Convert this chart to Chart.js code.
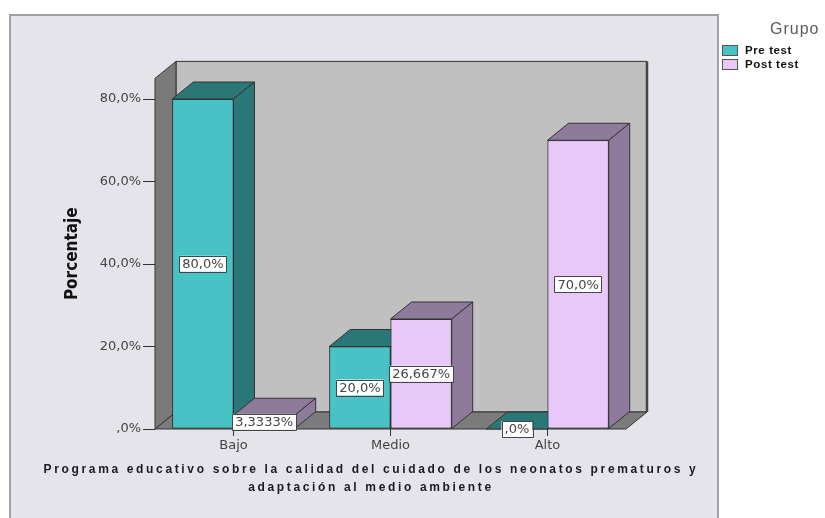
<!DOCTYPE html>
<html>
<head>
<meta charset="utf-8">
<script src="https://cdn.jsdelivr.net/npm/chart.js@4/dist/chart.umd.min.js"></script>
<style>
  html, body { margin: 0; padding: 0; background: #fff; }
</style>
</head>
<body>
<canvas id="grafico" width="825" height="518"></canvas>
<script>
// Datos del gráfico
const categories = ['Bajo', 'Medio', 'Alto'];
const seriesNames = ['Pre test', 'Post test'];
const preTest = [80, 20, 0];
const postTest = [3.3333, 26.667, 70];
const preLabels = ['80,0%', '20,0%', ',0%'];
const postLabels = ['3,3333%', '26,667%', '70,0%'];
const yTicks = [0, 20, 40, 60, 80];
const yTickLabels = [',0%', '20,0%', '40,0%', '60,0%', '80,0%'];
const yTitle = 'Porcentaje';
const xTitle = ['Programa educativo sobre la calidad del cuidado de los neonatos prematuros y',
                'adaptación al medio ambiente'];
const legendTitle = 'Grupo';

// Estilo
const frontColors = ['#47c3c6', '#e8c8f8'];
const depthColors = ['#2b7676', '#8e7a9b'];
const DX = 21, DY = -17; // profundidad 3D
const fontSans = "'Liberation Sans', Arial, sans-serif";
const fontTicks = "'DejaVu Sans', sans-serif";

const allLabels = [preLabels, postLabels];

function poly(ctx, pts, fill, stroke) {
    ctx.beginPath();
    ctx.moveTo(pts[0][0], pts[0][1]);
    for (let i = 1; i < pts.length; i++) ctx.lineTo(pts[i][0], pts[i][1]);
    ctx.closePath();
    ctx.fillStyle = fill;
    ctx.fill();
    if (stroke) { ctx.strokeStyle = stroke; ctx.stroke(); }
}

const depth3d = {
    id: 'depth3d',
    beforeDraw(chart) {
        const ctx = chart.ctx;
        ctx.save();
        ctx.fillStyle = '#ffffff';
        ctx.fillRect(0, 0, chart.width, chart.height);
        ctx.fillStyle = '#e4e4ea';
        ctx.fillRect(10, 15, 708, 520);
        ctx.strokeStyle = '#a0a0a4';
        ctx.lineWidth = 2;
        ctx.strokeRect(10, 15, 708, 520);
        ctx.restore();
    },
    beforeDatasetsDraw(chart) {
        const ctx = chart.ctx;
        const a = chart.chartArea;
        ctx.save();
        ctx.lineWidth = 1;
        ctx.lineJoin = 'round';
        // pared trasera
        poly(ctx, [[a.left + DX, a.top + DY], [a.right + DX, a.top + DY],
                   [a.right + DX, a.bottom + DY], [a.left + DX, a.bottom + DY]], '#c0c0c0', '#333');
        ctx.lineWidth = 2.5;
        ctx.strokeStyle = '#444';
        ctx.beginPath();
        ctx.moveTo(a.right + DX, a.top + DY);
        ctx.lineTo(a.right + DX, a.bottom + DY);
        ctx.stroke();
        ctx.lineWidth = 1;
        // pared izquierda
        poly(ctx, [[a.left, a.bottom], [a.left, a.top], [a.left + DX, a.top + DY],
                   [a.left + DX, a.bottom + DY]], '#7a7a7a', '#333');
        // suelo
        poly(ctx, [[a.left, a.bottom], [a.right, a.bottom], [a.right + DX, a.bottom + DY],
                   [a.left + DX, a.bottom + DY]], '#7b7b7b', '#333');
        ctx.restore();
    },
    afterDatasetsDraw(chart) {
        const ctx = chart.ctx;
        ctx.save();
        // barras en orden: Pre test y luego Post test (la cara frontal tapa el lateral anterior)
        ctx.lineWidth = 1;
        ctx.lineJoin = 'round';
        chart.data.datasets.forEach((ds, i) => {
            chart.getDatasetMeta(i).data.forEach(el => {
                el.draw(ctx);
                const p = el.getProps(['x', 'y', 'base', 'width'], true);
                const L = p.x - p.width / 2, R = p.x + p.width / 2, T = p.y, B = p.base;
                poly(ctx, [[L, T], [R, T], [R + DX, T + DY], [L + DX, T + DY]], depthColors[i], '#333');
                poly(ctx, [[R, T], [R + DX, T + DY], [R + DX, B + DY], [R, B]], depthColors[i], '#333');
            });
        });
        // etiquetas de valor
        ctx.font = '13px ' + fontTicks;
        ctx.textAlign = 'center';
        ctx.textBaseline = 'middle';
        chart.data.datasets.forEach((ds, i) => {
            chart.getDatasetMeta(i).data.forEach((el, j) => {
                const p = el.getProps(['x', 'y', 'base'], true);
                const cy = (p.y + p.base) / 2;
                const txt = allLabels[i][j];
                const w = ctx.measureText(txt).width + 6;
                const h = 16;
                ctx.fillStyle = '#ffffff';
                ctx.fillRect(p.x - w / 2, cy - h / 2, w, h);
                ctx.strokeStyle = '#444';
                ctx.lineWidth = 1;
                ctx.strokeRect(Math.round(p.x - w / 2) + 0.5, Math.round(cy - h / 2) + 0.5, Math.round(w), h);
                ctx.fillStyle = '#444';
                ctx.fillText(txt, p.x, cy + 1);
            });
        });
        ctx.restore();
    },
    afterDraw(chart) {
        const ctx = chart.ctx;
        const hasLS = 'letterSpacing' in ctx;
        ctx.save();
        // título eje X
        ctx.fillStyle = '#1a1a24';
        ctx.font = 'bold 12px ' + fontSans;
        ctx.textAlign = 'center';
        ctx.textBaseline = 'middle';
        if (hasLS) ctx.letterSpacing = '2.65px';
        ctx.fillText(xTitle[0], 371, 470);
        ctx.fillText(xTitle[1], 371, 488);
        // leyenda
        ctx.textAlign = 'left';
        ctx.fillStyle = '#5a5a5a';
        ctx.font = '16px ' + fontSans;
        if (hasLS) ctx.letterSpacing = '1px';
        ctx.fillText(legendTitle, 770, 30);
        ctx.font = 'bold 11.5px ' + fontSans;
        if (hasLS) ctx.letterSpacing = '0.6px';
        seriesNames.forEach((name, i) => {
            const y = 45 + i * 14;
            ctx.fillStyle = frontColors[i];
            ctx.fillRect(722, y, 15, 10);
            ctx.strokeStyle = '#555';
            ctx.lineWidth = 1;
            ctx.strokeRect(722.5, y + 0.5, 15, 10);
            ctx.fillStyle = '#111';
            ctx.fillText(name, 745, y + 5.5);
        });
        if (hasLS) ctx.letterSpacing = '0px';
        ctx.restore();
    }
};

document.addEventListener('DOMContentLoaded', () => {
    const ctx = document.getElementById('grafico');
    new Chart(ctx, {
        type: 'bar',
        data: {
            labels: categories,
            datasets: [
                { label: seriesNames[0], data: preTest, backgroundColor: frontColors[0] },
                { label: seriesNames[1], data: postTest, backgroundColor: frontColors[1] }
            ]
        },
        options: {
            responsive: false,
            animation: false,
            events: [],
            datasets: {
                bar: {
                    borderColor: '#333',
                    borderWidth: 1,
                    borderSkipped: false,
                    categoryPercentage: 0.78,
                    barPercentage: 1
                }
            },
            layout: { padding: { left: 62, right: 199, top: 78.4, bottom: 59 } },
            plugins: {
                legend: { display: false },
                tooltip: { enabled: false }
            },
            scales: {
                y: {
                    min: 0,
                    max: 85,
                    afterFit: s => { s.width = 93; },
                    afterBuildTicks: s => { s.ticks = yTicks.map(v => ({ value: v })); },
                    ticks: {
                        color: '#444',
                        padding: 2,
                        font: { family: fontTicks, size: 13 },
                        callback: (v) => yTickLabels[yTicks.indexOf(v)]
                    },
                    grid: { drawOnChartArea: false, tickLength: 12, color: '#333' },
                    border: { display: false },
                    title: {
                        display: true,
                        text: yTitle,
                        color: '#111',
                        padding: 0,
                        font: { family: "'Liberation Sans Narrow', 'DejaVu Sans Condensed', sans-serif", size: 17, weight: 'bold' }
                    }
                },
                x: {
                    afterFit: s => { s.height = 30; },
                    ticks: {
                        color: '#444',
                        padding: 2,
                        font: { family: fontTicks, size: 13 }
                    },
                    grid: { offset: false, drawOnChartArea: false, tickLength: 7, color: '#333' },
                    border: { display: false }
                }
            }
        },
        plugins: [depth3d]
    });
});
</script>
</body>
</html>
